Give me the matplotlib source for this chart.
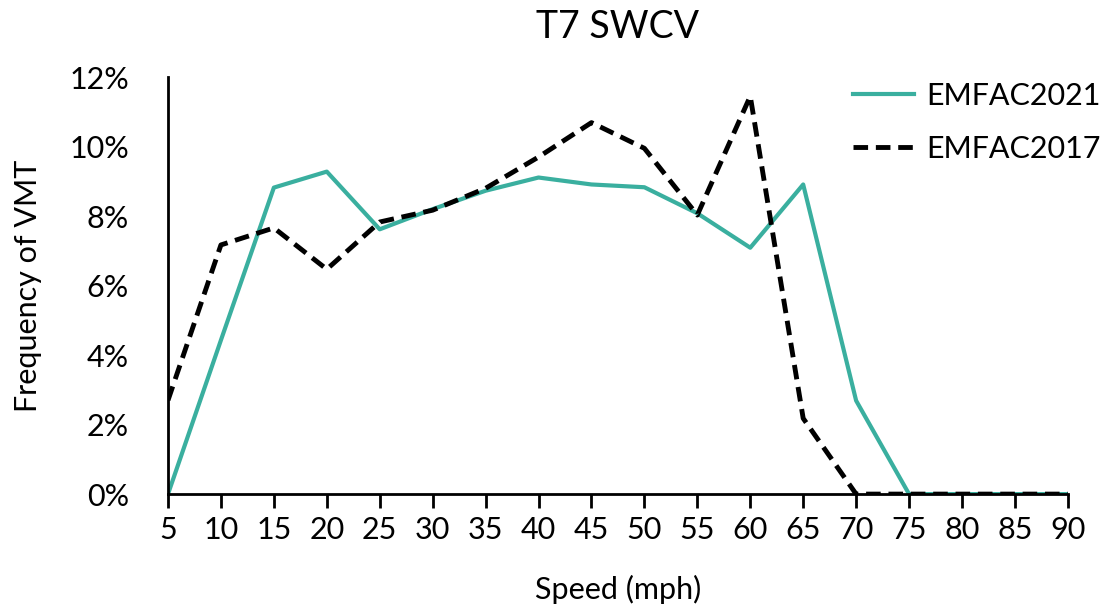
import matplotlib
matplotlib.use("Agg")
from matplotlib import pyplot as plt
from matplotlib.ticker import PercentFormatter

plt.rcParams['font.family'] = ['Lato', 'DejaVu Sans']

# speed bins (mph)
speeds = [5, 10, 15, 20, 25, 30, 35, 40, 45, 50, 55, 60, 65, 70, 75, 80, 85, 90]

# frequency of VMT (fraction)
emfac2021 = [0.0, 0.0443, 0.0882, 0.0928, 0.0762, 0.0820, 0.0873, 0.0911, 0.0891,
             0.0883, 0.0808, 0.0709, 0.0891, 0.0269, 0.0, 0.0, 0.0, 0.0]
emfac2017 = [0.0270, 0.0717, 0.0766, 0.0647, 0.0783, 0.0817, 0.0880, 0.0970, 0.1069,
             0.0995, 0.0803, 0.1145, 0.0218, 0.0, 0.0, 0.0, 0.0, 0.0]

fig = plt.figure(figsize=(11.17, 6.07), dpi=100)
ax = fig.add_axes([0.1504, 0.186, 0.8056, 0.687])

ax.plot(speeds, emfac2021, color="#3AAF9F", lw=3, label="EMFAC2021")
ax.plot(speeds, emfac2017, color="black", lw=3.5, ls=(0, (3, 1.6)), label="EMFAC2017")

ax.set_xlim(5, 90)
ax.set_ylim(0, 0.12)
ax.set_xticks(speeds)
ax.set_yticks([0, 0.02, 0.04, 0.06, 0.08, 0.10, 0.12])
ax.yaxis.set_major_formatter(PercentFormatter(1.0, decimals=0))

for s in ["top", "right"]:
    ax.spines[s].set_visible(False)
for s in ["left", "bottom"]:
    ax.spines[s].set_linewidth(2)
    ax.spines[s].set_color("black")

ax.tick_params(axis="x", direction="out", length=10, width=2, labelsize=22, pad=6)
ax.tick_params(axis="y", length=0, labelsize=22, pad=28)

ax.set_xlabel("Speed (mph)", fontsize=22, labelpad=22)
ax.set_ylabel("Frequency of VMT", fontsize=22, labelpad=20)
ax.set_title("T7 SWCV", fontsize=27, pad=28)

fig.legend(loc="upper right", bbox_to_anchor=(1.01, 0.91), frameon=False,
           fontsize=22, handlelength=2.0, handletextpad=0.4, labelspacing=0.8)

plt.savefig("out.png", dpi=100)
